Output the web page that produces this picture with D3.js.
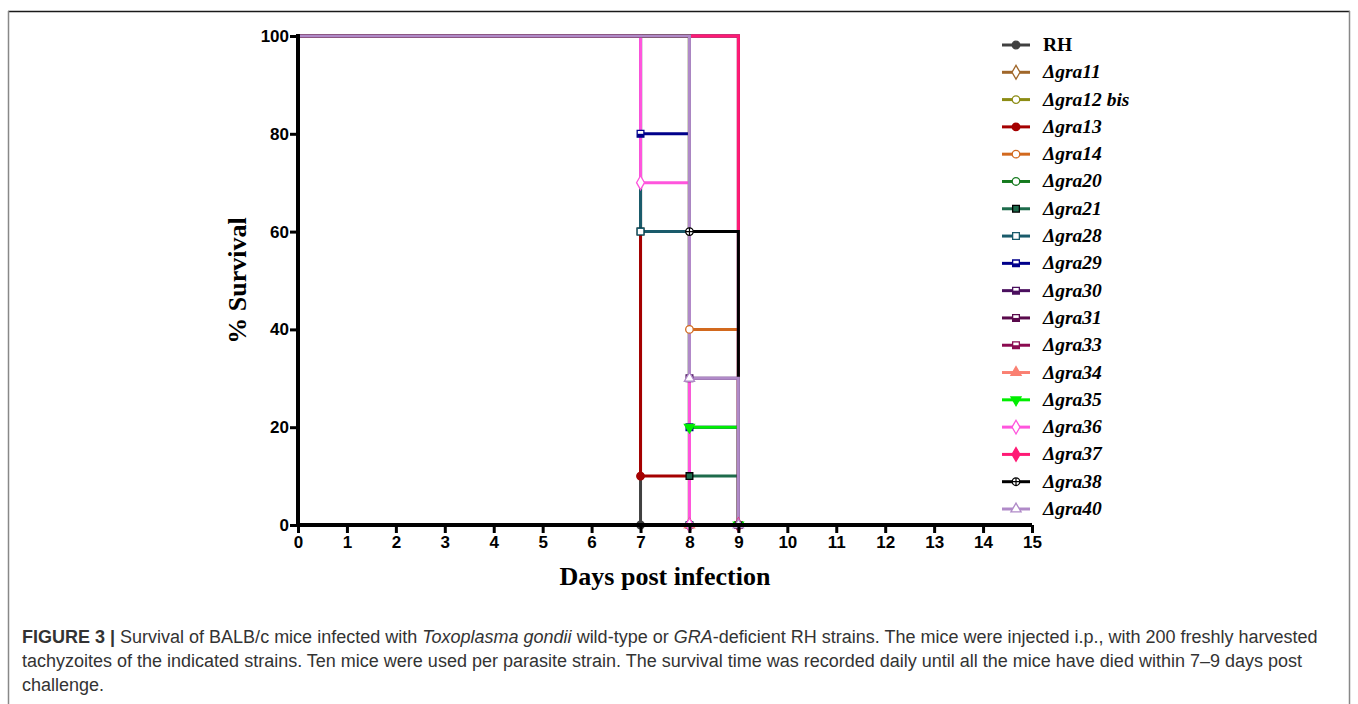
<!DOCTYPE html>
<html>
<head>
<meta charset="utf-8">
<script src="https://cdn.jsdelivr.net/npm/d3@7"></script>
<style>
  body { margin: 0; background: #fff; }
  svg { display: block; }
</style>
</head>
<body>
<div id="chart"></div>
<script>

// strain names, colours and survival steps [day, % surviving]
var strains = ["RH", "Δgra11", "Δgra12 bis", "Δgra13", "Δgra14", "Δgra20", "Δgra21", "Δgra28", "Δgra29",
               "Δgra30", "Δgra31", "Δgra33", "Δgra34", "Δgra35", "Δgra36", "Δgra37", "Δgra38", "Δgra40"];

var colors = ["#404040", "#a0672a", "#8c8c14", "#a50000", "#d2691e", "#157a1e", "#1d6b4b", "#1a5b6b", "#00008b",
              "#4a0f5e", "#5a0a4c", "#8b0a50", "#fa8072", "#00ee00", "#ff55dd", "#ff1a75", "#000000", "#b08ac8"];

var symbols = ["circle", "diamond", "circle", "circle", "circle", "circle", "square", "square", "square",
               "square", "square", "square", "triangle", "triangleDown", "diamond", "diamond", "cross", "triangle"];

var filled = [true, false, false, true, false, false, true, false, false,
              false, false, false, true, true, false, true, false, false];

var steps = [
  [[7, 0]],
  [[8, 0]],
  [[8, 0]],
  [[7, 10], [8, 0]],
  [[8, 40], [9, 0]],
  [[8, 0]],
  [[7, 60], [8, 10], [9, 0]],
  [[7, 60], [8, 0]],
  [[7, 80], [8, 20], [9, 0]],
  [[8, 30], [9, 0]],
  [[9, 0]],
  [[9, 0]],
  [[8, 0]],
  [[8, 20], [9, 0]],
  [[7, 70], [8, 0]],
  [[9, 0]],
  [[8, 60], [9, 0]],
  [[8, 30], [9, 0]]
];

var xTicks = d3.range(0, 16);
var yTicks = [0, 20, 40, 60, 80, 100];

var captionLines = [
  [["FIGURE 3 | ", "bold"], ["Survival of BALB/c mice infected with ", ""], ["Toxoplasma gondii", "italic"], [" wild-type or ", ""], ["GRA", "italic"], ["-deficient RH strains. The mice were injected i.p., with 200 freshly harvested", ""]],
  [["tachyzoites of the indicated strains. Ten mice were used per parasite strain. The survival time was recorded daily until all the mice have died within 7–9 days post", ""]],
  [["challenge.", ""]]
];

var width = 1358, height = 704;
var margin = {top: 36, left: 298, right: 326, bottom: 179};

var svg = d3.select("#chart").append("svg")
  .attr("width", width)
  .attr("height", height);

// figure frame
svg.append("line").attr("x1", 8).attr("x2", 1350).attr("y1", 11.5).attr("y2", 11.5)
  .attr("stroke", "#1a1a1a").attr("stroke-width", 1.5);
svg.append("line").attr("x1", 8.5).attr("x2", 8.5).attr("y1", 11).attr("y2", height)
  .attr("stroke", "#888").attr("stroke-width", 1.5);
svg.append("line").attr("x1", 1349.5).attr("x2", 1349.5).attr("y1", 11).attr("y2", height)
  .attr("stroke", "#888").attr("stroke-width", 1.5);

var xscale = d3.scaleLinear().domain([0, 15]).range([margin.left, width - margin.right]);
var yscale = d3.scaleLinear().domain([0, 100]).range([height - margin.bottom, margin.top]);

// survival step lines
function stepPath(s) {
  var p = "M" + xscale(0) + "," + yscale(100);
  s.forEach(function(d) {
    p += "H" + xscale(d[0]) + "V" + yscale(d[1]);
  });
  return p;
}

var symbolTypes = {
  circle: d3.symbolCircle, diamond: d3.symbolDiamond, square: d3.symbolSquare,
  triangle: d3.symbolTriangle, cross: d3.symbolCircle
};

function drawMarker(g, i, x, y) {
  var t = symbols[i];
  var m = g.append("g").attr("transform", "translate(" + x + "," + y + ")");
  if (t === "triangleDown") {
    m.append("path").attr("d", d3.symbol().type(d3.symbolTriangle).size(45)()).attr("transform", "rotate(180)")
      .attr("fill", colors[i]).attr("stroke", colors[i]).attr("stroke-width", 1.2);
  } else {
    m.append("path").attr("d", d3.symbol().type(symbolTypes[t]).size(t === "diamond" ? 55 : 45)())
      .attr("fill", filled[i] ? colors[i] : "#fff")
      .attr("stroke", t === "square" && filled[i] ? "#000" : colors[i])
      .attr("stroke-width", 1.3);
  }
  if (t === "cross") {
    m.append("path").attr("d", "M-3.8,0H3.8M0,-3.8V3.8").attr("stroke", colors[i]).attr("stroke-width", 1.2);
  }
  if (t === "square" && !filled[i] && i >= 8) {
    m.append("rect").attr("x", -3.4).attr("y", 0).attr("width", 6.8).attr("height", 3.4).attr("fill", colors[i]);
  }
}

var plot = svg.append("g");
steps.forEach(function(s, i) {
  plot.append("path")
    .attr("d", stepPath(s))
    .attr("fill", "none")
    .attr("stroke", colors[i])
    .attr("stroke-width", 3);
});
steps.forEach(function(s, i) {
  s.forEach(function(d) {
    drawMarker(plot, i, xscale(d[0]), yscale(d[1]));
  });
});

// axes
var xaxis = d3.axisBottom(xscale).tickValues(xTicks).tickSize(8).tickPadding(3).tickSizeOuter(0);
var yaxis = d3.axisLeft(yscale).tickValues(yTicks).tickSize(8).tickPadding(1).tickSizeOuter(0);

var gx = svg.append("g").attr("transform", "translate(0," + yscale(0) + ")").call(xaxis);
var gy = svg.append("g").attr("transform", "translate(" + xscale(0) + ",0)").call(yaxis);

[gx, gy].forEach(function(g) {
  g.select(".domain").attr("stroke", "#000").attr("stroke-width", 4);
  g.selectAll(".tick line").attr("stroke", "#000").attr("stroke-width", 3);
  g.selectAll(".tick text")
    .attr("fill", "#000")
    .style("font-family", "'Liberation Sans Narrow', 'Liberation Sans', Arial, sans-serif")
    .style("font-weight", "bold")
    .style("font-size", "17px");
});
gx.select(".domain").attr("d", "M" + (xscale(0) - 2) + ",0H" + xscale(15));
gy.select(".domain").attr("d", "M0," + (yscale(0) + 2) + "V" + (yscale(100) - 2));

// axis titles
svg.append("text")
  .attr("x", (xscale(0) + xscale(15)) / 2)
  .attr("y", 585)
  .attr("text-anchor", "middle")
  .style("font-family", "'Liberation Serif', 'Times New Roman', serif")
  .style("font-weight", "bold")
  .style("font-size", "26px")
  .text("Days post infection");

svg.append("text")
  .attr("transform", "translate(246," + ((yscale(0) + yscale(100)) / 2) + ") rotate(-90)")
  .attr("text-anchor", "middle")
  .style("font-family", "'Liberation Serif', 'Times New Roman', serif")
  .style("font-weight", "bold")
  .style("font-size", "26px")
  .text("% Survival");

// legend
var ly = d3.scaleLinear().domain([0, strains.length - 1]).range([45, 509]);
var legend = svg.append("g");
strains.forEach(function(name, i) {
  var y = ly(i);
  legend.append("line").attr("x1", 1002).attr("x2", 1030).attr("y1", y).attr("y2", y)
    .attr("stroke", colors[i]).attr("stroke-width", 3);
  drawMarker(legend, i, 1016, y);
  legend.append("text")
    .attr("x", 1043)
    .attr("y", y + 6)
    .style("font-family", "'Liberation Serif', 'Times New Roman', serif")
    .style("font-weight", "bold")
    .style("font-style", i === 0 ? "normal" : "italic")
    .style("font-size", "19.5px")
    .text(name);
});

// caption
var cap = svg.append("g");
captionLines.forEach(function(line, i) {
  var t = cap.append("text")
    .attr("x", 22)
    .attr("y", 643 + i * 24)
    .attr("fill", "#333")
    .style("font-family", "'Liberation Sans', Arial, sans-serif")
    .style("font-size", "18px");
  line.forEach(function(part) {
    t.append("tspan")
      .style("font-weight", part[1] === "bold" ? "bold" : "normal")
      .style("font-style", part[1] === "italic" ? "italic" : "normal")
      .text(part[0]);
  });
});

</script>
</body>
</html>
